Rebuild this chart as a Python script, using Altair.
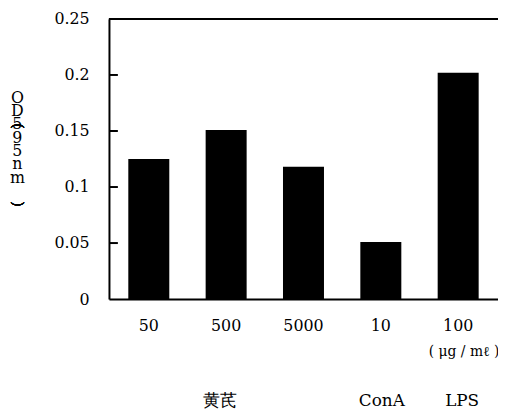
import altair as alt
import pandas as pd

categories = ["50", "500", "5000", "10", "100"]
values = [0.125, 0.151, 0.118, 0.051, 0.202]
y_ticks = [0, 0.05, 0.1, 0.15, 0.2, 0.25]
inner_ticks = [0.05, 0.1, 0.15, 0.2]
group_cats = ["500", "10", "100"]
group_labels = ["黄芪", "ConA", "LPS"]
group_shift = [-6, 1, 4]
unit_cats = ["100"]
unit_labels = ["( μg / mℓ )"]
y_title = ["O", "D", " ", "5", "9", "5", "n", "m", " "]
paren_chars = ["(", ")"]

SERIF = "DejaVu Serif"

bars_df = pd.DataFrame({"dose": categories, "od": values})
ticks_df = pd.DataFrame({"v": inner_ticks})
group_df = pd.DataFrame({"dose": group_cats, "label": group_labels, "shift": group_shift})
unit_df = pd.DataFrame({"dose": unit_cats, "label": unit_labels})

x_enc = alt.X(
    "dose:N",
    sort=categories,
    scale=alt.Scale(paddingInner=0.47, paddingOuter=0.25),
    axis=alt.Axis(
        title=None, labelAngle=0, ticks=False, grid=False,
        domainColor="black", domainWidth=2,
        labelFont=SERIF, labelFontSize=16, labelColor="black", labelPadding=19,
    ),
)
y_enc = alt.Y(
    "od:Q",
    scale=alt.Scale(domain=[0, 0.25], nice=False),
    axis=alt.Axis(
        values=y_ticks, format="~g", ticks=False, grid=False,
        domainColor="black", domainWidth=2,
        labelFont=SERIF, labelFontSize=16, labelColor="black", labelPadding=20,
        title=y_title, titleAngle=0, titleX=-93, titleY=79,
        titleAlign="center", titleBaseline="middle", titleLineHeight=13.5,
        titleFont=SERIF, titleFontSize=16, titleFontWeight="normal", titleColor="black",
    ),
)

bars = alt.Chart(bars_df).mark_bar(color="black").encode(x=x_enc, y=y_enc)

top_line = alt.Chart(bars_df).mark_rule(color="black", strokeWidth=2).encode(
    y=alt.datum(0.25)
)

ticks = alt.Chart(ticks_df).mark_tick(
    orient="horizontal", size=9, thickness=2, color="black", opacity=1
).encode(y=alt.Y("v:Q"), x=alt.value(4.5))

paren_open = alt.Chart(bars_df).mark_text(
    text=paren_chars[0], angle=90, font=SERIF, fontSize=14, color="black",
    align="center", baseline="middle"
).encode(x=alt.value(-93), y=alt.value(108))
paren_close = alt.Chart(bars_df).mark_text(
    text=paren_chars[1], angle=90, font=SERIF, fontSize=14, color="black",
    align="center", baseline="middle"
).encode(x=alt.value(-93), y=alt.value(187))

unit_text = alt.Chart(unit_df).mark_text(
    font=SERIF, fontSize=14, color="black", baseline="middle", dx=6
).encode(
    x=alt.X("dose:N", sort=categories), y=alt.value(336), text="label:N"
)

group_layers = []
for cat, lab, sh in zip(group_cats, group_labels, group_shift):
    sub = group_df[group_df["dose"] == cat]
    group_layers.append(
        alt.Chart(sub).mark_text(
            font=SERIF, fontSize=17, color="black", baseline="middle", dx=sh
        ).encode(
            x=alt.X("dose:N", sort=categories), y=alt.value(386), text="label:N"
        )
    )

chart = alt.layer(
    bars, top_line, ticks, paren_open, paren_close, unit_text, *group_layers
).properties(
    width=393, height=283,
    autosize=alt.AutoSizeParams(type="none"),
    padding={"left": 102, "top": 9, "right": 0, "bottom": 110},
).configure_view(stroke=None).configure(background="white")

chart.save("out.html", embed_options={"renderer": "svg", "actions": False})
